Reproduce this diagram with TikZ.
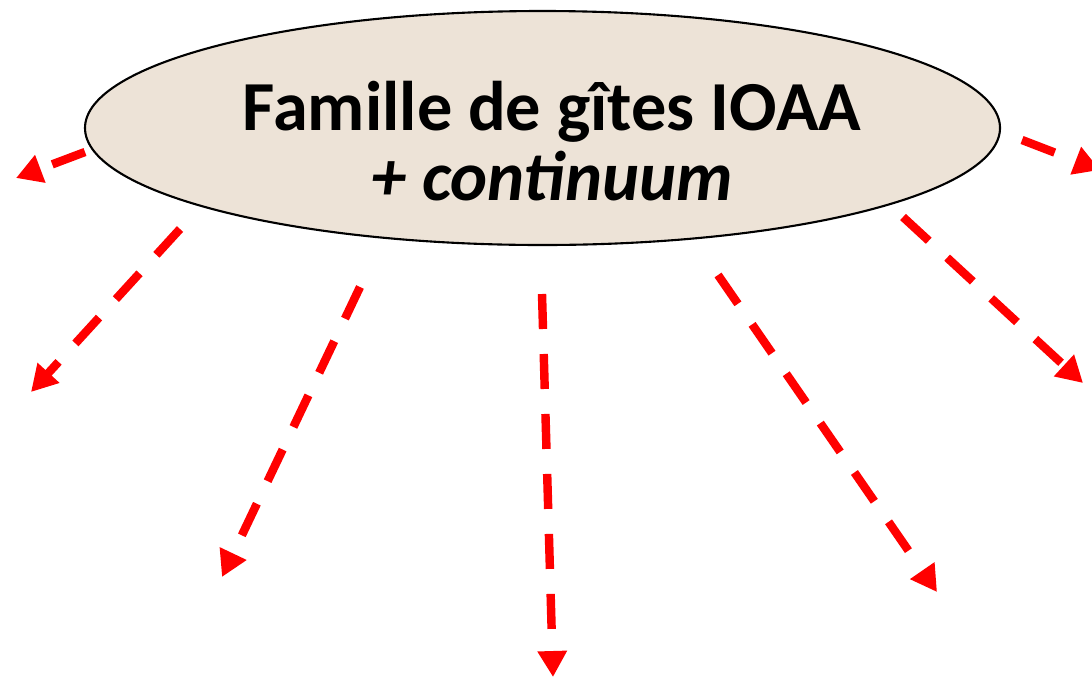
\documentclass[tikz,border=0pt]{standalone}
\usepackage{fontspec}
\setmainfont{Carlito}
\usetikzlibrary{arrows.meta,shapes.geometric}
\definecolor{beige}{HTML}{EDE3D7}
\tikzset{
  hub/.style={ellipse,draw=black,line width=0.6pt,fill=beige,inner sep=0pt,minimum width=9.15cm,minimum height=2.34cm},
  titletext/.style={anchor=base,inner sep=0pt,font=\fontsize{20}{20}\selectfont\bfseries},
  ray/.style={draw=red,line width=2.4pt,dash pattern=on 0.35cm off 0.25cm,-{Triangle[length=0.26cm,width=0.28cm]}}
}
\begin{document}
\begin{tikzpicture}
\useasboundingbox(0,0)rectangle(10.92,-6.78);
\node[hub](fam)at(5.425,-1.28){};%ellipse
\node[titletext](famA)at(5.52,-1.30){Famille de gîtes IOAA};
\node[titletext,font=\fontsize{20}{20}\selectfont\bfseries\itshape](famB)at(5.52,-2.00){+ continuum};
%start and end points of the rays
\coordinate(s1)at(0.85,-1.52);\coordinate(e1)at(0.16,-1.78);
\coordinate(s2)at(1.80,-2.29);\coordinate(e2)at(0.31,-3.92);
\coordinate(s3)at(3.60,-2.87);\coordinate(e3)at(2.22,-5.77);
\coordinate(s4)at(5.42,-2.94);\coordinate(e4)at(5.53,-6.77);
\coordinate(s5)at(7.18,-2.75);\coordinate(e5)at(9.37,-5.92);
\coordinate(s6)at(9.03,-2.17);\coordinate(e6)at(10.83,-3.83);
\coordinate(s7)at(10.22,-1.40);\coordinate(e7)at(11.00,-1.70);
\foreach \i in {1,...,7}
  \draw[ray](s\i)--(e\i);
\end{tikzpicture}
\end{document}
